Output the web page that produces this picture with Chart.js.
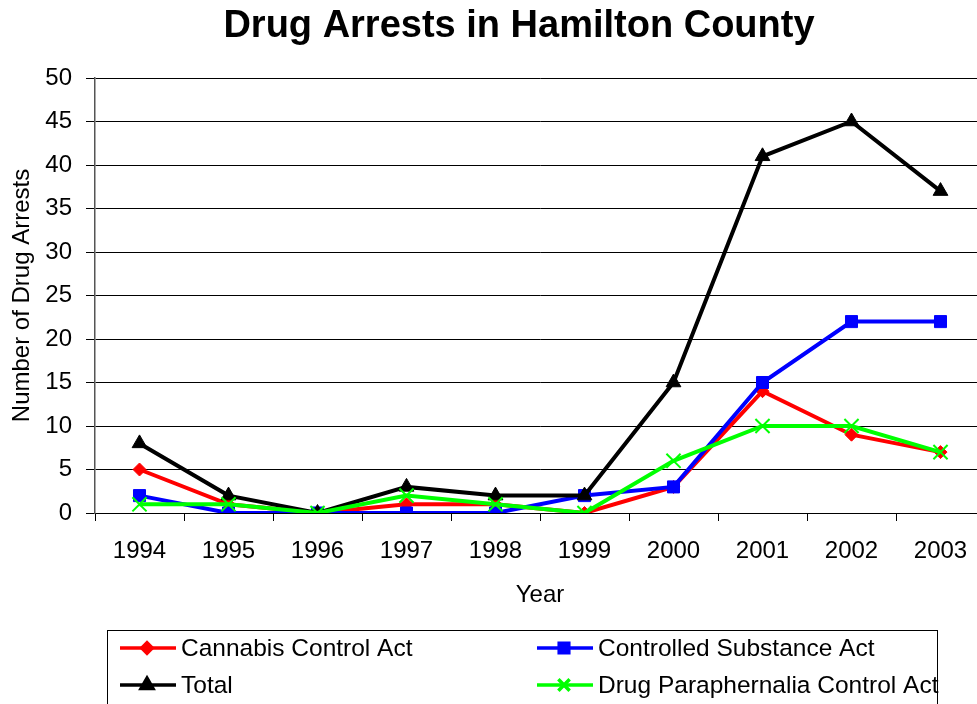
<!DOCTYPE html>
<html>
<head>
<meta charset="utf-8">
<script src="https://cdn.jsdelivr.net/npm/chart.js@4.4.0/dist/chart.umd.min.js"></script>
<style>
  html, body { margin: 0; padding: 0; background: #fff; overflow: hidden; }
  #clip { width: 977px; height: 704px; overflow: hidden; }
  #wrap { width: 997px; height: 704px; }
</style>
</head>
<body>
<div id="clip"><div id="wrap"><canvas id="arrests"></canvas></div></div>
<script>
var years = ["1994", "1995", "1996", "1997", "1998", "1999", "2000", "2001", "2002", "2003"];
var cannabis = [5, 1, 0, 1, 1, 0, 3, 14, 9, 7];
var controlled = [2, 0, 0, 0, 0, 2, 3, 15, 22, 22];
var total = [8, 2, 0, 3, 2, 2, 15, 41, 45, 37];
var paraphernalia = [1, 1, 0, 2, 1, 0, 6, 10, 10, 7];

var chartTitle = "Drug Arrests in Hamilton County";
var fontName = "'Liberation Sans', Arial, sans-serif";

// title + legend drawn by hand (legend is a two column box under the axis)
var boxLegend = {
	id: 'boxLegend',
	afterDraw: function (chart) {
		var ctx = chart.ctx;
		var sets = chart.data.datasets;
		var spots = [[120, 648], [537, 648], [120, 685], [537, 685]];
		ctx.save();
		ctx.fillStyle = "#000";
		ctx.font = "bold 38px " + fontName;
		ctx.textAlign = "center";
		ctx.textBaseline = "middle";
		ctx.fillText(chartTitle, 519, 27);

		ctx.textAlign = "left";
		ctx.strokeStyle = "#000";
		ctx.lineWidth = 1;
		ctx.strokeRect(107.5, 630.5, 830, 80);
		ctx.font = "24.5px " + fontName;
		for (var i = 0; i < sets.length; i++) {
			var ds = sets[i];
			var x = spots[i][0], y = spots[i][1];
			ctx.strokeStyle = ds.borderColor;
			ctx.lineWidth = 3.5;
			ctx.beginPath();
			ctx.moveTo(x, y);
			ctx.lineTo(x + 56, y);
			ctx.stroke();
			ctx.fillStyle = ds.borderColor;
			ctx.strokeStyle = ds.borderColor;
			Chart.helpers.drawPoint(ctx, {
				pointStyle: ds.pointStyle,
				radius: ds.pointRadius * 0.8,
				borderWidth: ds.pointBorderWidth
			}, x + 27, y);
			ctx.fillStyle = "#000";
			ctx.fillText(ds.label, x + 61, y + 1);
		}
		ctx.restore();
	}
};

function makeSet(label, values, color, style, radius, order) {
	return {
		label: label,
		data: values,
		order: order,
		borderColor: color,
		backgroundColor: color,
		borderWidth: 4,
		pointStyle: style,
		pointRadius: radius,
		pointBorderWidth: style === 'crossRot' ? 2 : 1,
		pointBorderColor: color,
		pointBackgroundColor: color,
		tension: 0
	};
}

var ctxa = document.getElementById("arrests").getContext('2d');
var lineChart = new Chart(ctxa, {
	type: 'line',
	data: {
		labels: years,
		datasets: [
			makeSet("Cannabis Control Act", cannabis, "#ff0000", 'rectRot', 6.5, 4),
			makeSet("Controlled Substance Act", controlled, "#0000ff", 'rect', 8.5, 3),
			makeSet("Total", total, "#000000", 'triangle', 8.5, 2),
			makeSet("Drug Paraphernalia Control Act", paraphernalia, "#00ff00", 'crossRot', 10, 1)
		]
	},
	options: {
		responsive: true,
		maintainAspectRatio: false,
		animation: false,
		layout: { padding: { left: 0, right: 0, top: 78, bottom: 94 } },
		plugins: {
			legend: { display: false },
			tooltip: { enabled: false },
			title: { display: false }
		},
		scales: {
			x: {
				offset: true,
				grid: {
					display: true,
					offset: true,
					drawOnChartArea: false,
					drawTicks: true,
					tickLength: 8,
					color: "#000"
				},
				border: { color: "#000", width: 1 },
				ticks: {
					color: "#000",
					font: { family: fontName, size: 24 },
					padding: 16,
					maxRotation: 0
				},
				title: {
					display: true,
					text: "Year",
					color: "#000",
					font: { family: fontName, size: 24 },
					padding: { top: 0, bottom: 0 }
				},
				afterFit: function (scale) { scale.height = 97; }
			},
			y: {
				min: 0,
				max: 50,
				grid: {
					color: "#000",
					lineWidth: 1,
					tickLength: 9,
					drawTicks: true
				},
				border: { color: "#555", width: 1.5 },
				ticks: {
					stepSize: 5,
					color: "#000",
					font: { family: fontName, size: 24 },
					padding: 14
				},
				title: {
					display: true,
					text: "Number of Drug Arrests",
					color: "#000",
					font: { family: fontName, size: 24 },
					padding: { top: 8, bottom: 0 }
				},
				afterFit: function (scale) { scale.width = 95; }
			}
		}
	},
	plugins: [boxLegend]
});
</script>
</body>
</html>
